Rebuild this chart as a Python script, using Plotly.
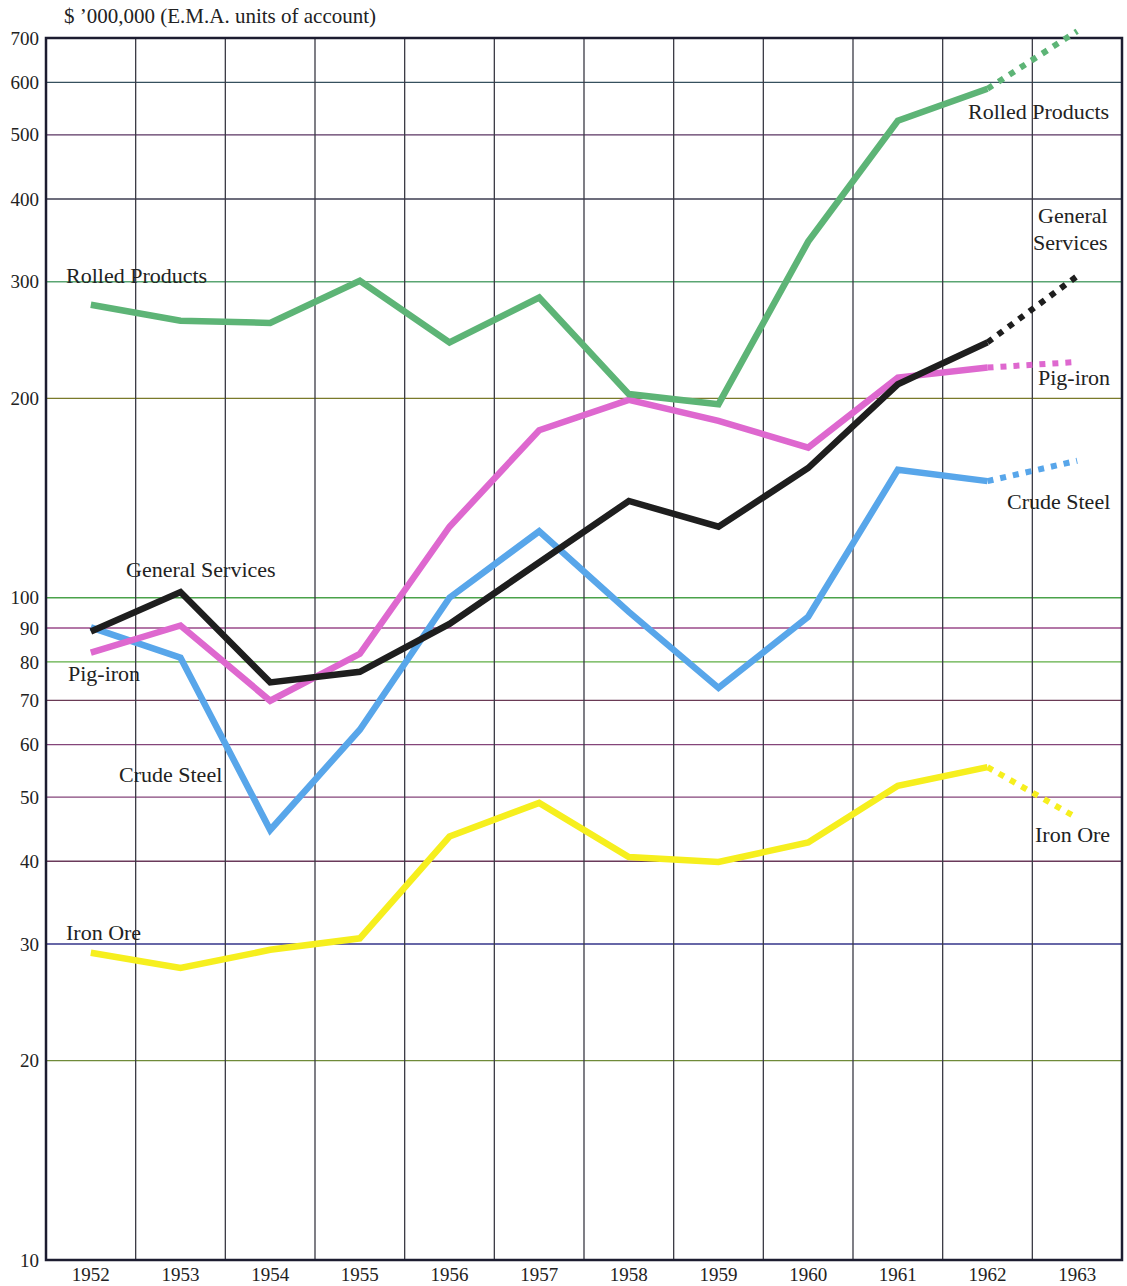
import numpy as np
import plotly.graph_objects as go

# Annual values, $ '000,000 (E.M.A. units of account); 1963 is the estimate
years = [1952, 1953, 1954, 1955, 1956, 1957, 1958, 1959, 1960, 1961, 1962, 1963]
rolled_products = [277, 262, 260, 301, 243, 284, 203, 196, 345, 525, 587, 717]
general_services = [88.9, 102, 74.5, 77.3, 91.3, 113, 140, 128, 157, 210, 243, 306]
pig_iron = [82.6, 90.8, 69.9, 82.3, 128, 179, 199, 185, 168.5, 215, 222.6, 227]
crude_steel = [90.2, 81.2, 44.6, 63.2, 100, 126, 95.2, 73.1, 93.6, 156, 150, 161]
iron_ore = [29.1, 27.6, 29.4, 30.6, 43.6, 49.0, 40.6, 39.9, 42.7, 52, 55.5, 46.5]

y_ticks = [10, 20, 30, 40, 50, 60, 70, 80, 90, 100, 200, 300, 400, 500, 600, 700]
y_tick_labels = [str(v) for v in y_ticks]

# colour of each horizontal rule (keyed by the tick it sits on)
rule_colours = {
    20: "#6f8a3a", 30: "#34348a", 40: "#6a3a5a", 50: "#84457a", 60: "#84457a",
    70: "#6a3a55", 80: "#5fae45", 90: "#9a4a8a", 100: "#4aa24a", 200: "#7a7a2a",
    300: "#5aa572", 400: "#3c3c50", 500: "#5a3462", 600: "#36505e",
}

series = [
    ("Iron Ore", iron_ore, "#f6ef1e"),
    ("Crude Steel", crude_steel, "#58a6ea"),
    ("Pig-iron", pig_iron, "#de68cf"),
    ("Rolled Products", rolled_products, "#5db476"),
    ("General Services", general_services, "#1e1e1e"),
]

# the log axis runs a little past 700 so the 1963 estimate can poke above the frame
Y_MIN, Y_MAX, FRAME_TOP = 10, 730, 700


def yfrac(v):
    return (np.log10(v) - np.log10(Y_MIN)) / (np.log10(Y_MAX) - np.log10(Y_MIN))


fig = go.Figure()
for name, vals, col in series:
    # firm figures up to 1962
    fig.add_trace(go.Scatter(
        x=years[:-1], y=vals[:-1], mode="lines", name=name,
        line=dict(color=col, width=6.5), showlegend=False, hoverinfo="skip",
    ))
    # 1962 -> 1963 projection, dotted
    fig.add_trace(go.Scatter(
        x=years[-2:], y=vals[-2:], mode="lines", name=name + " (est.)",
        line=dict(color=col, width=6, dash="6px,7px"), showlegend=False,
        hoverinfo="skip",
    ))

# plot-area geometry in page pixels, used to place free text
L, R, T, B = 46, 1122, 26, 1260


def paper(px, py):
    return (px - L) / (R - L), (B - py) / (B - T)


label_font = dict(family="Liberation Serif, Times New Roman, serif", size=22, color="#222222")
labels = [
    ("Rolled Products", 65, 276, "left", "middle"),
    ("Rolled Products", 1110, 111, "right", "middle"),
    ("General Services", 125, 569, "left", "middle"),
    ("General", 1109, 229, "right", "bottom"),
    ("Services", 1109, 229, "right", "top"),
    ("Pig-iron", 67, 673, "left", "middle"),
    ("Pig-iron", 1111, 377, "right", "middle"),
    ("Crude Steel", 118, 774, "left", "middle"),
    ("Crude Steel", 1111, 501, "right", "middle"),
    ("Iron Ore", 65, 932, "left", "middle"),
    ("Iron Ore", 1111, 834, "right", "middle"),
]
for text, px, py, xa, ya in labels:
    ax, ay = paper(px, py)
    fig.add_annotation(
        x=ax, y=ay, xref="paper", yref="paper", text=text, showarrow=False,
        xanchor=xa, yanchor=ya, align=xa, font=label_font, borderpad=0,
    )

tx, ty = paper(62, 16)
fig.add_annotation(
    x=tx, y=ty, xref="paper", yref="paper", showarrow=False,
    text="$ \u2019000,000 (E.M.A. units of account)",
    xanchor="left", yanchor="middle",
    font=dict(family="Liberation Serif, Times New Roman, serif", size=21, color="#222222"),
)

top = yfrac(FRAME_TOP)

# horizontal rules
for v, c in rule_colours.items():
    fig.add_shape(
        type="line", xref="paper", x0=0, x1=1, yref="paper",
        y0=yfrac(v), y1=yfrac(v),
        line=dict(color=c, width=1.4), layer="below",
    )

# vertical rules between the years
for y in years[:-1]:
    fig.add_shape(
        type="line", xref="x", x0=y + 0.5, x1=y + 0.5, yref="paper", y0=0, y1=top,
        line=dict(color="#3a3a44", width=1.3), layer="below",
    )

# outer frame
fig.add_shape(
    type="rect", xref="paper", x0=0, x1=1, yref="paper", y0=0, y1=top,
    line=dict(color="#1c1c30", width=2.5), layer="below",
)

tick_font = dict(family="Liberation Serif, Times New Roman, serif", size=19, color="#222222")

fig.update_layout(
    width=1127, height=1286,
    margin=dict(l=L, r=1127 - R, t=T, b=1286 - B),
    paper_bgcolor="white", plot_bgcolor="white",
    xaxis=dict(
        range=[1951.5, 1963.5], tickmode="array", tickvals=years,
        ticktext=[str(y) for y in years], showgrid=False, zeroline=False,
        ticks="", tickfont=tick_font, ticklabelstandoff=1, automargin=False,
        showline=False,
    ),
    yaxis=dict(
        type="log", range=[np.log10(Y_MIN), np.log10(Y_MAX)], tickmode="array",
        tickvals=y_ticks, ticktext=y_tick_labels, showgrid=False,
        zeroline=False, ticks="", tickfont=tick_font, ticklabelstandoff=6,
        automargin=False, showline=False,
    ),
)

fig.write_html("out.html")
